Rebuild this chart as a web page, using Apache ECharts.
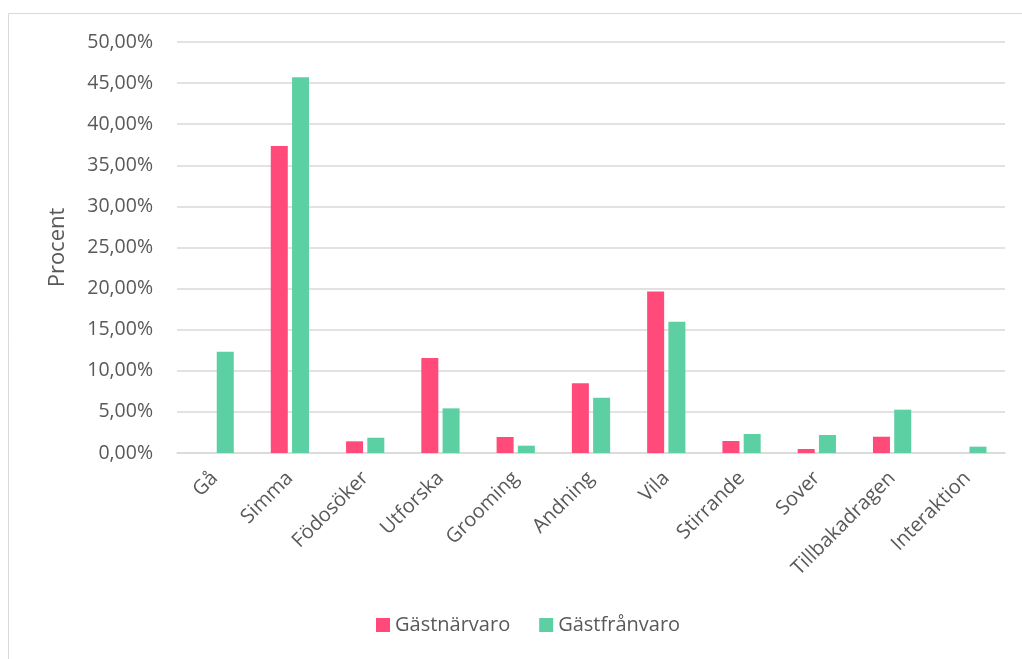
<!DOCTYPE html>
<html><head><meta charset="utf-8">
<script src="https://cdn.jsdelivr.net/npm/echarts@6/dist/echarts.min.js"></script>
<style>html,body{margin:0;padding:0;background:#fff}#c{width:1022px;height:659px}</style>
</head><body><div id="c"></div>
<script>
const categories = ["Gå","Simma","Födosöker","Utforska","Grooming","Andning","Vila","Stirrande","Sover","Tillbakadragen","Interaktion"];
const seriesNames = ["Gästnärvaro","Gästfrånvaro"];
const gastnarvaro = [0, 37.35, 1.42, 11.56, 1.95, 8.5, 19.66, 1.46, 0.49, 1.98, 0];
const gastfranvaro = [12.32, 45.7, 1.86, 5.43, 0.89, 6.73, 15.97, 2.31, 2.19, 5.27, 0.77];
const colors = ["#FF4A7A", "#5CCFA3"];
const font = "'Open Sans', 'Liberation Sans', sans-serif";
const chart = echarts.init(document.getElementById('c'), null, {renderer:'canvas'});
chart.setOption({
  animation:false,
  backgroundColor:'#fff',
  graphic:[{type:'polyline', shape:{points:[[8.5,659],[8.5,13.5],[1022,13.5]]}, style:{stroke:'#D9D9D9', lineWidth:1, fill:null}, silent:true}],
  grid:{left:177, right:17, top:42, bottom:206, containLabel:false},
  legend:{bottom:19, left:371, itemWidth:14, itemHeight:14, itemGap:29,
    icon:'rect', textStyle:{color:'#595959', fontSize:20, fontFamily:font},
    data:seriesNames},
  xAxis:{type:'category', data:categories,
    axisLine:{lineStyle:{color:'#D9D9D9', width:1.5}}, axisTick:{show:false},
    axisLabel:{rotate:45, color:'#595959', fontSize:20, fontFamily:font, margin:22, interval:0}},
  yAxis:{type:'value', min:0, max:50, interval:5,
    name:'Procent', nameLocation:'middle', nameGap:108, nameRotate:90,
    nameTextStyle:{color:'#595959', fontSize:22, fontFamily:font},
    axisLine:{show:false}, axisTick:{show:false},
    splitLine:{lineStyle:{color:'#D9D9D9', width:1.5}},
    axisLabel:{color:'#595959', fontSize:19.5, fontFamily:font, margin:24,
      formatter:v=>v.toFixed(2).replace('.',',')+'%'}},
  series:[
    {name:seriesNames[0], type:'bar', data:gastnarvaro, barWidth:17, barGap:'25%', itemStyle:{color:colors[0]}},
    {name:seriesNames[1], type:'bar', data:gastfranvaro, barWidth:17, barGap:'25%', itemStyle:{color:colors[1]}}
  ]
});
</script></body></html>
